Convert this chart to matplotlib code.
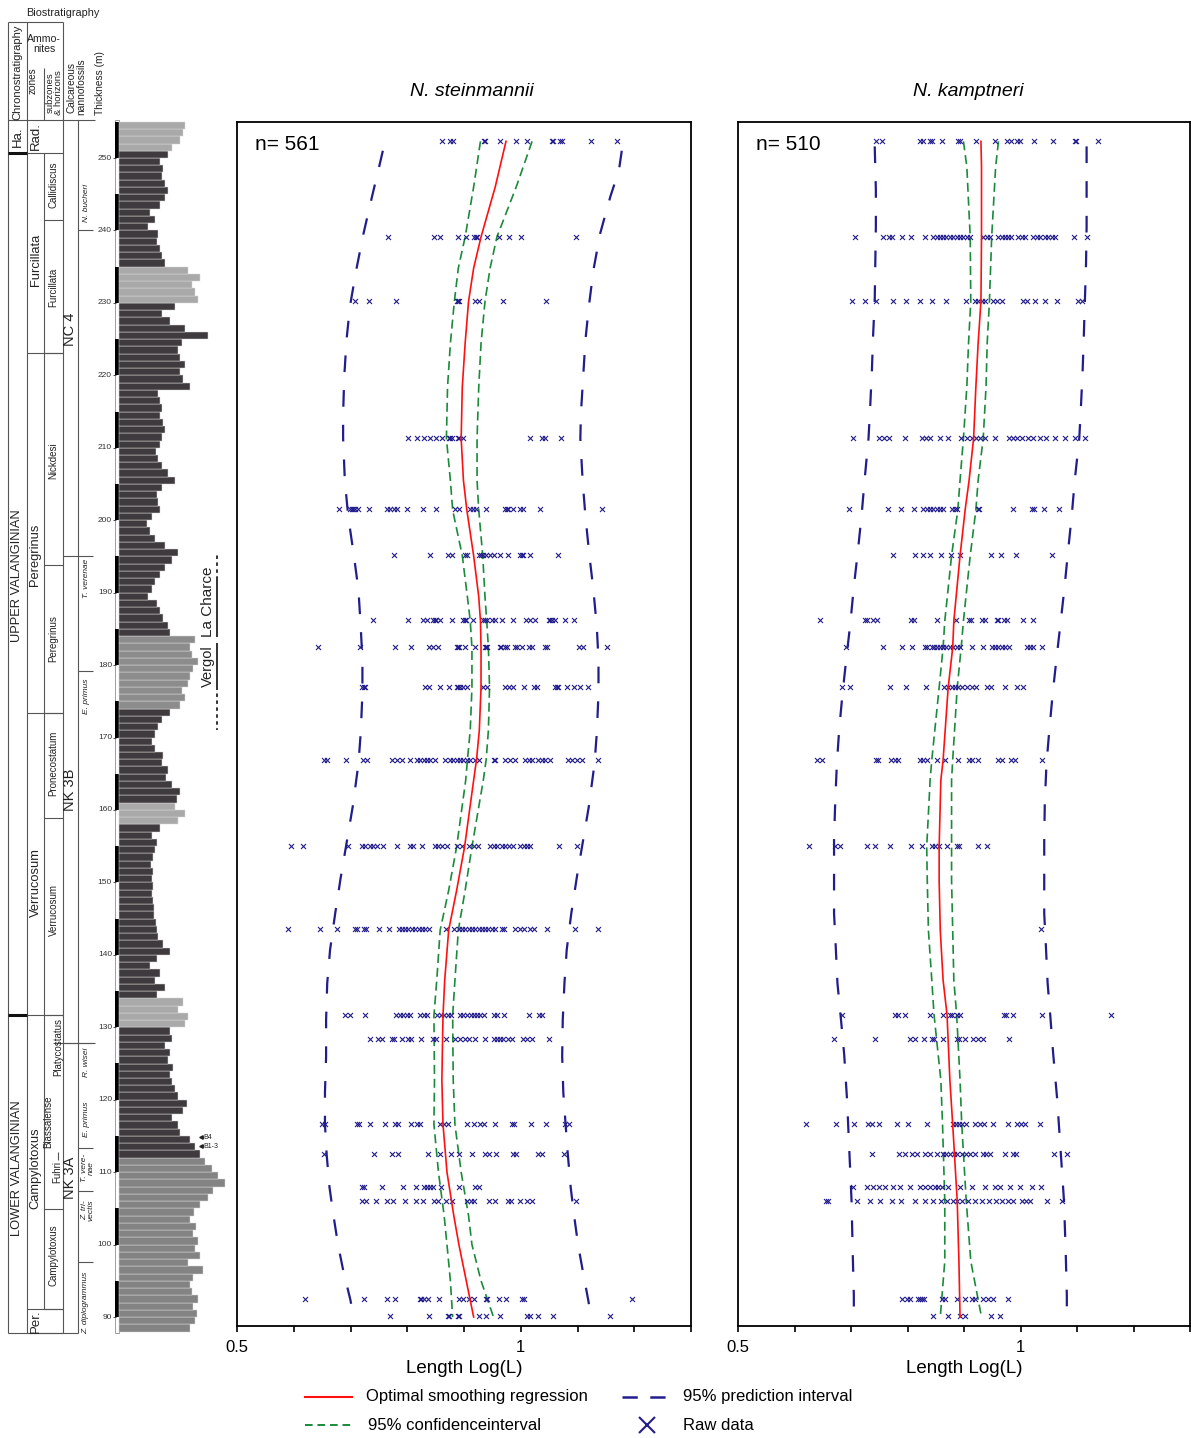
import numpy as np
import matplotlib
matplotlib.use('Agg')
import matplotlib.pyplot as plt
from matplotlib.lines import Line2D
from matplotlib.patches import Rectangle

plt.rcParams['font.family'] = ['Liberation Sans', 'DejaVu Sans']
plt.rcParams['lines.scale_dashes'] = False

# ------------------------------------------------------------------ DATA
titles = ['N. steinmannii', 'N. kamptneri']
n_counts = [561, 510]

# sampling levels (m) of the raw-data rows
row_depths = [252.35, 239.09, 230.26, 211.35, 201.55, 195.20, 186.22, 182.50, 176.98, 166.90,
              155.03, 143.57, 131.70, 128.38, 116.65, 112.51, 107.95, 106.02, 92.49, 90.15]

stein_rows = [
    [0.861, 0.876, 0.880, 0.936, 0.937, 0.963, 0.992, 1.011, 1.055, 1.057, 1.070, 1.072, 1.124, 1.170],
    [0.766, 0.847, 0.857, 0.890, 0.904, 0.918, 0.921, 0.923, 0.940, 0.961, 0.980, 1.001, 1.097],
    [0.708, 0.733, 0.780, 0.887, 0.889, 0.892, 0.920, 0.927, 0.969, 1.045],
    [0.802, 0.817, 0.829, 0.840, 0.851, 0.861, 0.873, 0.876, 0.878, 0.890, 0.892, 0.899, 1.016, 1.037, 1.043, 1.071],
    [0.679, 0.699, 0.702, 0.704, 0.708, 0.714, 0.732, 0.764, 0.770, 0.776, 0.782, 0.799, 0.827, 0.851, 0.884,
     0.892, 0.910, 0.916, 0.922, 0.939, 0.973, 0.975, 0.977, 0.987, 0.999, 1.004, 1.034, 1.143],
    [0.777, 0.840, 0.872, 0.879, 0.901, 0.906, 0.926, 0.930, 0.934, 0.939, 0.945, 0.952, 0.964, 0.978, 0.999,
     1.002, 1.004, 1.016, 1.065],
    [0.740, 0.802, 0.828, 0.835, 0.846, 0.849, 0.851, 0.858, 0.879, 0.899, 0.902, 0.904, 0.916, 0.934, 0.937,
     0.940, 0.949, 0.955, 0.967, 0.987, 1.010, 1.017, 1.025, 1.049, 1.052, 1.055, 1.061, 1.078, 1.093],
    [0.643, 0.717, 0.779, 0.807, 0.839, 0.846, 0.855, 0.887, 0.889, 0.892, 0.902, 0.920, 0.937, 0.939, 0.940,
     0.963, 0.965, 0.973, 0.976, 0.990, 0.994, 1.002, 1.014, 1.020, 1.043, 1.046, 1.103, 1.110, 1.152],
    [0.720, 0.723, 0.726, 0.832, 0.839, 0.857, 0.873, 0.887, 0.890, 0.893, 0.899, 0.906, 0.934, 0.940, 0.973,
     0.980, 0.987, 1.005, 1.023, 1.029, 1.061, 1.063, 1.065, 1.082, 1.093, 1.104, 1.118],
    [0.653, 0.659, 0.692, 0.722, 0.729, 0.773, 0.782, 0.790, 0.805, 0.817, 0.823, 0.829, 0.835, 0.840, 0.849,
     0.867, 0.876, 0.881, 0.887, 0.893, 0.899, 0.905, 0.911, 0.920, 0.927, 0.952, 0.955, 0.973, 0.981, 0.990,
     1.008, 1.014, 1.020, 1.031, 1.037, 1.043, 1.052, 1.084, 1.090, 1.099, 1.108, 1.137],
    [0.596, 0.616, 0.696, 0.720, 0.726, 0.735, 0.740, 0.746, 0.757, 0.782, 0.805, 0.811, 0.826, 0.849, 0.855,
     0.861, 0.870, 0.887, 0.896, 0.908, 0.917, 0.925, 0.946, 0.952, 0.958, 0.967, 0.973, 0.979, 0.986, 0.999,
     1.005, 1.011, 1.017, 1.068, 1.099],
    [0.590, 0.646, 0.677, 0.708, 0.712, 0.723, 0.728, 0.751, 0.767, 0.785, 0.790, 0.796, 0.802, 0.808, 0.814,
     0.820, 0.826, 0.832, 0.838, 0.869, 0.883, 0.891, 0.897, 0.902, 0.908, 0.914, 0.920, 0.926, 0.932, 0.937,
     0.943, 0.949, 0.955, 0.967, 0.971, 0.989, 0.998, 1.006, 1.016, 1.023, 1.047, 1.096, 1.137],
    [0.690, 0.699, 0.726, 0.780, 0.787, 0.793, 0.799, 0.805, 0.823, 0.829, 0.835, 0.853, 0.859, 0.865, 0.871,
     0.877, 0.893, 0.899, 0.906, 0.912, 0.918, 0.923, 0.929, 0.935, 0.952, 0.958, 0.971, 1.014, 1.033, 1.037],
    [0.735, 0.749, 0.755, 0.773, 0.777, 0.790, 0.802, 0.806, 0.825, 0.846, 0.851, 0.869, 0.884, 0.893, 0.902,
     0.908, 0.920, 0.937, 0.952, 0.958, 0.964, 0.969, 0.978, 0.984, 1.004, 1.011, 1.020, 1.049],
    [0.650, 0.655, 0.712, 0.715, 0.735, 0.761, 0.779, 0.784, 0.807, 0.817, 0.823, 0.858, 0.864, 0.871, 0.906,
     0.917, 0.929, 0.936, 0.955, 0.985, 0.988, 1.018, 1.045, 1.078, 1.085],
    [0.653, 0.742, 0.773, 0.784, 0.837, 0.858, 0.877, 0.892, 0.914, 0.937, 0.944, 0.957, 0.987, 0.992, 1.031,
     1.038, 1.077],
    [0.720, 0.724, 0.756, 0.793, 0.816, 0.830, 0.835, 0.840, 0.846, 0.860, 0.892, 0.920, 0.927],
    [0.720, 0.728, 0.745, 0.765, 0.775, 0.796, 0.816, 0.828, 0.847, 0.854, 0.869, 0.879, 0.906, 0.913, 0.918,
     0.944, 0.955, 0.978, 0.983, 0.999, 1.011, 1.020, 1.098],
    [0.619, 0.724, 0.764, 0.779, 0.822, 0.825, 0.830, 0.837, 0.856, 0.892, 0.899, 0.908, 0.918, 0.939, 0.940,
     0.961, 0.974, 1.002, 1.005, 1.196],
    [0.769, 0.839, 0.872, 0.874, 0.889, 0.892, 0.927, 0.939, 0.963, 1.011, 1.017, 1.031, 1.056, 1.158],
]

kampt_rows = [
    [0.745, 0.754, 0.822, 0.828, 0.840, 0.843, 0.861, 0.890, 0.893, 0.921, 0.954, 0.976, 0.983, 0.993, 0.999,
     1.024, 1.058, 1.096, 1.099, 1.138],
    [0.707, 0.757, 0.768, 0.772, 0.790, 0.807, 0.831, 0.846, 0.852, 0.858, 0.863, 0.869, 0.875, 0.881, 0.887,
     0.893, 0.899, 0.905, 0.911, 0.934, 0.940, 0.946, 0.961, 0.967, 0.973, 0.978, 0.984, 0.996, 1.002, 1.008,
     1.023, 1.029, 1.035, 1.043, 1.049, 1.055, 1.061, 1.095, 1.118],
    [0.702, 0.725, 0.745, 0.775, 0.797, 0.822, 0.843, 0.868, 0.904, 0.919, 0.925, 0.931, 0.937, 0.952, 0.958,
     0.967, 1.005, 1.011, 1.026, 1.043, 1.064, 1.102, 1.108],
    [0.704, 0.750, 0.759, 0.767, 0.796, 0.826, 0.833, 0.840, 0.858, 0.872, 0.895, 0.905, 0.914, 0.921, 0.928,
     0.937, 0.955, 0.980, 0.987, 0.994, 1.003, 1.013, 1.022, 1.035, 1.045, 1.061, 1.079, 1.096, 1.114],
    [0.697, 0.765, 0.788, 0.812, 0.828, 0.834, 0.840, 0.846, 0.852, 0.858, 0.863, 0.878, 0.884, 0.887, 0.925,
     0.927, 0.987, 1.020, 1.024, 1.042, 1.069],
    [0.775, 0.813, 0.828, 0.840, 0.859, 0.877, 0.893, 0.948, 0.965, 0.992, 1.055],
    [0.645, 0.725, 0.729, 0.739, 0.746, 0.807, 0.812, 0.853, 0.886, 0.908, 0.912, 0.931, 0.937, 0.958, 0.961,
     0.970, 0.976, 1.005, 1.023],
    [0.691, 0.757, 0.790, 0.808, 0.831, 0.834, 0.843, 0.847, 0.852, 0.858, 0.863, 0.869, 0.875, 0.881, 0.887,
     0.893, 0.914, 0.933, 0.949, 0.955, 0.961, 0.967, 0.973, 0.979, 1.011, 1.016, 1.023, 1.038],
    [0.684, 0.699, 0.769, 0.797, 0.832, 0.865, 0.872, 0.878, 0.884, 0.890, 0.896, 0.906, 0.914, 0.921, 0.941,
     0.947, 0.973, 0.994, 1.004],
    [0.640, 0.648, 0.744, 0.748, 0.770, 0.778, 0.784, 0.822, 0.828, 0.834, 0.853, 0.866, 0.890, 0.908, 0.915,
     0.924, 0.961, 0.967, 0.984, 0.990, 1.038],
    [0.626, 0.672, 0.681, 0.728, 0.742, 0.769, 0.807, 0.825, 0.843, 0.849, 0.855, 0.870, 0.887, 0.892, 0.924,
     0.941],
    [1.036],
    [0.684, 0.778, 0.784, 0.796, 0.839, 0.863, 0.875, 0.878, 0.887, 0.893, 0.970, 0.974, 0.986, 1.038, 1.161],
    [0.670, 0.742, 0.804, 0.813, 0.829, 0.843, 0.847, 0.863, 0.888, 0.892, 0.902, 0.916, 0.925, 0.934, 0.980],
    [0.620, 0.673, 0.705, 0.730, 0.738, 0.750, 0.781, 0.800, 0.835, 0.881, 0.886, 0.892, 0.897, 0.904, 0.919,
     0.928, 0.935, 0.951, 0.978, 0.994, 1.001, 1.008, 1.035],
    [0.737, 0.785, 0.796, 0.808, 0.817, 0.831, 0.840, 0.852, 0.863, 0.868, 0.875, 0.882, 0.888, 0.896, 0.903,
     0.911, 0.919, 0.934, 0.939, 0.946, 0.973, 0.987, 0.992, 1.059, 1.082],
    [0.704, 0.728, 0.739, 0.750, 0.760, 0.774, 0.787, 0.804, 0.822, 0.831, 0.840, 0.849, 0.854, 0.861, 0.872,
     0.893, 0.914, 0.937, 0.955, 0.964, 0.981, 0.999, 1.020, 1.036],
    [0.656, 0.659, 0.711, 0.734, 0.751, 0.773, 0.788, 0.813, 0.831, 0.845, 0.859, 0.870, 0.881, 0.888, 0.896,
     0.907, 0.919, 0.931, 0.944, 0.956, 0.967, 0.978, 0.986, 1.002, 1.010, 1.017, 1.047, 1.073],
    [0.790, 0.799, 0.804, 0.819, 0.822, 0.825, 0.829, 0.861, 0.866, 0.888, 0.902, 0.915, 0.919, 0.934, 0.943,
     0.952, 0.977],
    [0.846, 0.872, 0.893, 0.902, 0.947, 0.964],
]

# smoothing regression and 95% confidence interval, N. steinmannii
stein_fit_depth = [252.3, 246.0, 239.1, 234.8, 230.2, 224.4, 218.4, 211.3, 205.5, 201.4, 195.1, 189.4, 186.1,
                   182.4, 176.9, 171.0, 166.9, 164.1, 154.9, 148.9, 143.4, 136.5, 131.6, 122.7, 116.6, 110.0,
                   104.0, 100.0, 95.0, 90.0]
stein_fit = [0.974, 0.955, 0.930, 0.917, 0.908, 0.902, 0.897, 0.895, 0.899, 0.905, 0.917, 0.926, 0.929, 0.930,
             0.930, 0.927, 0.922, 0.917, 0.901, 0.887, 0.873, 0.866, 0.863, 0.861, 0.863, 0.870, 0.882, 0.891,
             0.904, 0.917]
stein_ci_lo = [0.929, 0.917, 0.902, 0.890, 0.883, 0.876, 0.871, 0.869, 0.876, 0.880, 0.897, 0.906, 0.911, 0.914,
               0.914, 0.911, 0.906, 0.903, 0.887, 0.873, 0.858, 0.852, 0.847, 0.848, 0.847, 0.855, 0.865, 0.870,
               0.876, 0.880]
stein_ci_hi = [1.020, 0.992, 0.958, 0.946, 0.937, 0.930, 0.926, 0.923, 0.923, 0.926, 0.933, 0.937, 0.940, 0.943,
               0.945, 0.943, 0.939, 0.934, 0.914, 0.902, 0.890, 0.884, 0.880, 0.881, 0.884, 0.895, 0.908, 0.914,
               0.930, 0.952]
# 95% prediction interval, N. steinmannii
stein_pi_depth = [251.0, 248.3, 244.7, 239.6, 234.5, 229.5, 224.9, 219.8, 214.7, 211.3, 205.5, 200.5, 195.1,
                  190.4, 185.3, 180.7, 176.1, 170.6, 166.4, 160.5, 155.4, 150.8, 145.7, 140.7, 136.1, 131.0,
                  126.0, 121.0, 116.6, 112.4, 107.9, 104.0, 100.0, 96.5, 92.3, 90.0]
stein_pi_lo = [0.757, 0.749, 0.738, 0.723, 0.710, 0.699, 0.693, 0.689, 0.687, 0.687, 0.690, 0.696, 0.706, 0.714,
               0.718, 0.721, 0.721, 0.718, 0.714, 0.704, 0.693, 0.683, 0.673, 0.664, 0.659, 0.657, 0.657, 0.655,
               0.655, 0.658, 0.663, 0.670, 0.678, 0.687, 0.700, 0.705]
stein_pi_hi = [1.178, 1.173, 1.158, 1.140, 1.128, 1.120, 1.114, 1.110, 1.106, 1.105, 1.109, 1.114, 1.121, 1.128,
               1.134, 1.137, 1.137, 1.134, 1.130, 1.120, 1.109, 1.099, 1.089, 1.081, 1.077, 1.074, 1.073, 1.075,
               1.079, 1.083, 1.088, 1.094, 1.101, 1.109, 1.119, 1.124]

# smoothing regression and 95% confidence interval, N. kamptneri
kampt_fit_depth = [252.3, 248.8, 239.1, 230.2, 224.4, 218.4, 211.3, 205.5, 201.4, 195.1, 186.1, 182.4, 176.9,
                   166.9, 164.1, 154.9, 150.3, 143.4, 136.5, 131.7, 122.7, 116.6, 106.0, 97.7, 90.0]
kampt_fit = [0.930, 0.931, 0.931, 0.930, 0.925, 0.921, 0.917, 0.909, 0.902, 0.893, 0.882, 0.880, 0.872, 0.863,
             0.859, 0.856, 0.856, 0.858, 0.863, 0.870, 0.875, 0.880, 0.888, 0.891, 0.893]
kampt_ci_lo = [0.899, 0.905, 0.911, 0.912, 0.908, 0.905, 0.899, 0.893, 0.889, 0.878, 0.866, 0.863, 0.856, 0.843,
               0.840, 0.834, 0.835, 0.837, 0.843, 0.847, 0.859, 0.862, 0.866, 0.866, 0.858]
kampt_ci_hi = [0.961, 0.956, 0.949, 0.945, 0.941, 0.939, 0.934, 0.925, 0.921, 0.911, 0.899, 0.895, 0.888, 0.880,
               0.878, 0.878, 0.878, 0.880, 0.882, 0.887, 0.893, 0.896, 0.904, 0.912, 0.931]
# 95% prediction interval, N. kamptneri
kampt_pi_depth = [251.6, 245.6, 240.5, 235.5, 230.4, 225.3, 220.7, 215.7, 211.3, 205.5, 200.9, 195.6, 190.8,
                  185.9, 181.1, 176.1, 171.0, 166.4, 160.9, 155.9, 150.8, 145.7, 141.1, 136.1, 131.3, 126.2,
                  120.0, 113.0, 106.0, 99.0, 93.0, 90.0]
kampt_pi_lo = [0.742, 0.744, 0.744, 0.743, 0.742, 0.739, 0.737, 0.734, 0.731, 0.724, 0.719, 0.712, 0.705, 0.699,
               0.692, 0.685, 0.679, 0.675, 0.672, 0.670, 0.670, 0.670, 0.673, 0.676, 0.682, 0.688, 0.693, 0.697,
               0.701, 0.703, 0.705, 0.705]
kampt_pi_hi = [1.117, 1.117, 1.117, 1.116, 1.114, 1.112, 1.110, 1.107, 1.104, 1.096, 1.091, 1.084, 1.078, 1.071,
               1.064, 1.057, 1.051, 1.046, 1.043, 1.042, 1.042, 1.042, 1.045, 1.048, 1.053, 1.058, 1.065, 1.071,
               1.077, 1.080, 1.082, 1.082]

# lithological log: right edge of each 1 m bed, 88 m ... 254 m (bottom to top)
log_base = 88
log_edge = [190, 195, 197, 193, 198, 192, 190, 193, 203, 188, 200, 195, 198, 193, 196, 190, 194, 200, 208, 213,
            225, 218, 212, 205, 200, 195, 190, 180, 178, 172, 183, 187, 178, 175, 172, 170, 173, 168, 170, 165,
            172, 170, 185, 188, 178, 183, 157, 165, 155, 160, 150, 157, 170, 163, 158, 157, 156, 154, 154, 153,
            152, 153, 152, 153, 151, 153, 155, 157, 152, 160, 178, 185, 175, 177, 180, 172, 166, 168, 162, 163,
            155, 152, 155, 158, 162, 170, 180, 185, 182, 188, 190, 193, 198, 192, 190, 195, 170, 168, 163, 160,
            157, 148, 152, 155, 160, 165, 172, 178, 165, 155, 150, 147, 152, 160, 158, 157, 162, 175, 168, 162,
            158, 156, 160, 162, 165, 163, 160, 162, 160, 158, 190, 183, 180, 185, 180, 178, 182, 208, 185, 170,
            162, 175, 198, 195, 192, 200, 188, 165, 162, 160, 157, 158, 148, 155, 150, 160, 165, 168, 165, 162,
            163, 160, 168, 172, 180, 183, 185]
log_facies = [('gray', 87.8, 112), ('dark', 112, 130), ('light', 130, 134), ('dark', 134, 158),
              ('light', 158, 161), ('dark', 161, 174), ('mid', 174, 184), ('dark', 184, 230),
              ('light', 230, 235), ('dark', 235, 251), ('light', 251, 255.3)]

# stratigraphic units (m)
col_top, col_bottom = 255.25, 87.79
stages = [('Ha.', 250.69, 255.25), ('UPPER VALANGINIAN', 131.70, 250.69), ('LOWER VALANGINIAN', 87.79, 131.70)]
ammonite_zones = [('Rad.', 250.69, 255.25), ('Furcillata', 223.08, 250.69), ('Peregrinus', 173.39, 223.08),
                  ('Verrucosum', 131.70, 173.39), ('Campylotoxus', 91.11, 131.70), ('Per.', 87.79, 91.11)]
ammonite_subzones = [('Callidiscus', 246.3), ('Furcillata', 232.2), ('Nickdesi', 208.2), ('Peregrinus', 183.7),
                     ('Pronecostatum', 166.5), ('Verrucosum', 146.2), ('Platycostatus', 127.3),
                     ('Biassalense', 117.0), ('Fuhri', 110.0), ('Campylotoxus', 98.6)]
subzone_bounds = [241.44, 223.08, 193.82, 173.39, 158.89, 131.70, 104.92, 91.11]
nanno_zones = [('NC 4', 226.3), ('NK 3B', 162.8), ('NK 3A', 109.2)]
nanno_bounds = [195.06, 127.83]
nanno_subzones = [('N. bucheri', 243.8), ('T. verenae', 192.0), ('E. primus', 175.7), ('R. wisei', 125.1),
                  ('E. primus', 117.3), ('T. vere-\nnae', 110.6), ('Z. tri-\nvectis', 104.8),
                  ('Z. diplogrammus', 91.9)]
nanno_sub_bounds = [240.06, 195.06, 179.18, 127.83, 113.33, 107.40, 97.60]
thickness_ticks = list(range(90, 251, 10))

# ------------------------------------------------------------------ FIGURE
W, H = 1191, 1438
fig = plt.figure(figsize=(W / 100, H / 100), dpi=100)


def fx(px):
    return px / W


def fy(py):
    return 1 - py / H


def mpx(py):  # pixel row -> thickness (m)
    return 250 - (py - 158) / 7.244


NAVY = '#221d8c'
RED = '#ff1010'
GREEN = '#1b8a3a'

panels = [
    (237, 691, stein_rows, stein_fit_depth, stein_fit, stein_ci_lo, stein_ci_hi,
     stein_pi_depth, stein_pi_lo, stein_pi_hi, 472),
    (738, 1190, kampt_rows, kampt_fit_depth, kampt_fit, kampt_ci_lo, kampt_ci_hi,
     kampt_pi_depth, kampt_pi_lo, kampt_pi_hi, 968),
]

for i, (x0, x1, rows, fd, fit, clo, chi, pd, plo, phi, tx) in enumerate(panels):
    ax = fig.add_axes([fx(x0), fy(1326), (x1 - x0) / W, (1326 - 122) / H])
    ax.set_xlim(0.5, 1.3)
    ax.set_ylim(mpx(1326), mpx(122))
    for d, vals in zip(row_depths, rows):
        ax.scatter(vals, [d] * len(vals), marker='x', s=13, color=NAVY, linewidths=0.8, zorder=3)
    ax.plot(plo, pd, color=NAVY, lw=1.6, dashes=(12, 13), zorder=2)
    ax.plot(phi, pd, color=NAVY, lw=1.6, dashes=(12, 13), zorder=2)
    ax.plot(clo, fd, color=GREEN, lw=1.2, dashes=(6.5, 3.5), zorder=2)
    ax.plot(chi, fd, color=GREEN, lw=1.2, dashes=(6.5, 3.5), zorder=2)
    ax.plot(fit, fd, color=RED, lw=1.2, zorder=4)
    ax.set_xticks([0.5, 1.0])
    ax.set_xticklabels(['0.5', '1'])
    ax.set_xticks([0.6, 0.7, 0.8, 0.9, 1.1, 1.2, 1.3], minor=True)
    ax.tick_params(axis='x', which='both', direction='out', length=4, width=1.2, labelsize=12, pad=6)
    ax.set_yticks([])
    for s in ax.spines.values():
        s.set_linewidth(1.3)
    ax.set_xlabel('Length Log(L)', fontsize=13.5, labelpad=4)
    ax.text(0.04, 0.981, f'n= {n_counts[i]}', transform=ax.transAxes, fontsize=15, va='center', ha='left')
    fig.text(fx(tx), fy(92), titles[i], fontsize=14, style='italic', ha='center', va='center')

# legend
fig.add_artist(Line2D([fx(305), fx(352)], [fy(1397)] * 2, color=RED, lw=1.5))
fig.text(fx(366), fy(1397), 'Optimal smoothing regression', fontsize=12, va='center')
fig.add_artist(Line2D([fx(622), fx(668)], [fy(1397)] * 2, color=NAVY, lw=1.8, dashes=(11, 9)))
fig.text(fx(683), fy(1397), '95% prediction interval', fontsize=12, va='center')
fig.add_artist(Line2D([fx(305), fx(352)], [fy(1425)] * 2, color=GREEN, lw=1.4, dashes=(5.5, 3.5)))
fig.text(fx(368), fy(1425), '95% confidenceinterval', fontsize=12, va='center')
fig.add_artist(Line2D([fx(647)], [fy(1425)], marker='x', ms=12, mew=1.5, color=NAVY, linestyle='none'))
fig.text(fx(683), fy(1425), 'Raw data', fontsize=12, va='center')

# ------------------------------------------------------------------ STRATIGRAPHIC COLUMN
axs = fig.add_axes([0, 0, 235 / W, 1])
axs.set_xlim(0, 235)
axs.set_ylim(mpx(H), mpx(0))
axs.axis('off')
LC = '#555555'
TC = '#222222'


def hline(y, xa, xb, lw=0.8, c=LC):
    axs.plot([xa, xb], [y, y], color=c, lw=lw, solid_capstyle='butt')


def vline(x, ya, yb, lw=0.8, c=LC):
    axs.plot([x, x], [ya, yb], color=c, lw=lw, solid_capstyle='butt')


# header
axs.text(63, mpx(13), 'Biostratigraphy', fontsize=7.8, ha='center', va='center', color=TC)
hline(mpx(22), 8, 63)
hline(col_top, 8, 95)
vline(8, mpx(22), col_bottom)
vline(27, mpx(22), col_bottom)
vline(44, mpx(68), mpx(120))
vline(63, mpx(22), col_bottom)
vline(78, col_top, col_bottom)
hline(col_bottom, 8, 78)
axs.text(17.5, mpx(72), 'Chronostratigraphy', rotation=90, fontsize=8, ha='center', va='center', color=TC)
axs.text(44, mpx(44), 'Ammo-\nnites', fontsize=7.6, ha='center', va='center', color=TC, linespacing=0.95)
axs.text(33, mpx(81), 'zones', rotation=90, fontsize=7.2, ha='center', va='center', color=TC)
axs.text(54.5, mpx(93), 'subzones\n& horizons', rotation=90, fontsize=6.8, ha='center', va='center',
         color=TC, linespacing=0.9)
axs.text(76, mpx(87), 'Calcareous\nnannofossils', rotation=90, fontsize=7.3, ha='center', va='center',
         color=TC, linespacing=0.95)
axs.text(100, mpx(83), 'Thickness (m)', rotation=90, fontsize=7.3, ha='center', va='center', color=TC)

# stages
for name, lo, hi in stages:
    if name == 'Ha.':
        axs.text(17.5, (lo + hi) / 2, name, rotation=90, fontsize=9.5, ha='center', va='center', color=TC)
    elif name.startswith('UPPER'):
        axs.text(17.5, 192.4, name, rotation=90, fontsize=9.3, ha='center', va='center', color=TC)
    else:
        axs.text(17.5, 110.6, name, rotation=90, fontsize=9.3, ha='center', va='center', color=TC)
hline(250.69, 8, 27, lw=2.2, c='#111111')
hline(131.70, 8, 27, lw=2.2, c='#111111')

# ammonite zones
for name, lo, hi in ammonite_zones:
    if name in ('Rad.', 'Per.'):
        axs.text(35.5, (lo + hi) / 2, name, rotation=90, fontsize=9.5, ha='center', va='center', color=TC)
    else:
        yc = {'Furcillata': 235.9, 'Peregrinus': 195.2, 'Verrucosum': 150.0, 'Campylotoxus': 110.6}[name]
        axs.text(35.5, yc, name, rotation=90, fontsize=9.3, ha='center', va='center', color=TC)
    hline(lo, 27, 63)
vline(44, 91.11, 250.69)

# ammonite subzones
for name, yc in ammonite_subzones:
    xc = {'Platycostatus': 58, 'Biassalense': 48.5, 'Fuhri': 57}.get(name, 53.5)
    axs.text(xc, yc, name, rotation=90, fontsize=7, ha='center', va='center', color=TC)
for b in subzone_bounds:
    hline(b, 44, 63)
hline(127.83, 53, 95)
vline(58, mpx(1152), mpx(1160))

# nannofossil zones
for name, yc in nanno_zones:
    axs.text(70.5, yc, name, rotation=90, fontsize=10.5, ha='center', va='center', color=TC)
for b in nanno_bounds:
    hline(b, 63, 78)
for name, yc in nanno_subzones:
    axs.text(88 if '\n' in name else 86, yc, name, rotation=90, fontsize=6, style='italic',
             ha='center', va='center', color=TC, linespacing=0.95)
for b in nanno_sub_bounds:
    hline(b, 78, 93)

# thickness scale
for t in thickness_ticks:
    axs.text(112, t, str(t), fontsize=6, ha='right', va='center', color='#333333')
    hline(t, 112.5, 116, lw=0.6, c='#333333')

# black / white metre bar
axs.add_patch(Rectangle((115, col_bottom), 4, col_top - col_bottom, facecolor='white',
                        edgecolor='#777777', lw=0.5))
for t in range(90, 255, 10):
    axs.add_patch(Rectangle((115, t), 4, min(5, col_top - t), facecolor='black', edgecolor='none'))

# log
fcol = {'gray': '#838383', 'dark': '#3f3a3d', 'light': '#a9a9a9', 'mid': '#8c8c8c'}
for k, edge in enumerate(log_edge):
    b = log_base + k
    mid = b + 0.5
    c = 'dark'
    for f, lo, hi in log_facies:
        if lo <= mid < hi:
            c = f
    top = min(b + 1, col_top)
    axs.add_patch(Rectangle((119, b), edge - 119, top - b, facecolor=fcol[c],
                            edgecolor='#d8d8d8', lw=0.35))

# section labels
vline(217, 195.6, 192.0, lw=1.3, c='#222222')
axs.plot([217, 217], [195.6, 192.0], color='white', lw=1.4, dashes=(2.5, 2.5))
vline(217, 192.0, 183.9, lw=1.3, c='#222222')
vline(217, 183.1, 176.6, lw=1.3, c='#222222')
vline(217, 176.6, 171.0, lw=1.3, c='#222222')
axs.plot([217, 217], [176.6, 171.0], color='white', lw=1.4, dashes=(2.5, 2.5))
axs.text(208, 188.7, 'La Charce', rotation=90, fontsize=11, ha='center', va='center', color=TC)
axs.text(208, 179.9, 'Vergol', rotation=90, fontsize=10.5, ha='center', va='center', color=TC)
axs.plot([201], [114.85], marker='<', ms=2.5, color='#222222')
axs.plot([201], [113.6], marker='<', ms=2.5, color='#222222')
axs.text(203, 114.85, 'B4', fontsize=5, va='center', ha='left', color=TC)
axs.text(203, 113.6, 'B1-3', fontsize=5, va='center', ha='left', color=TC)

fig.savefig('out.png', dpi=100)
